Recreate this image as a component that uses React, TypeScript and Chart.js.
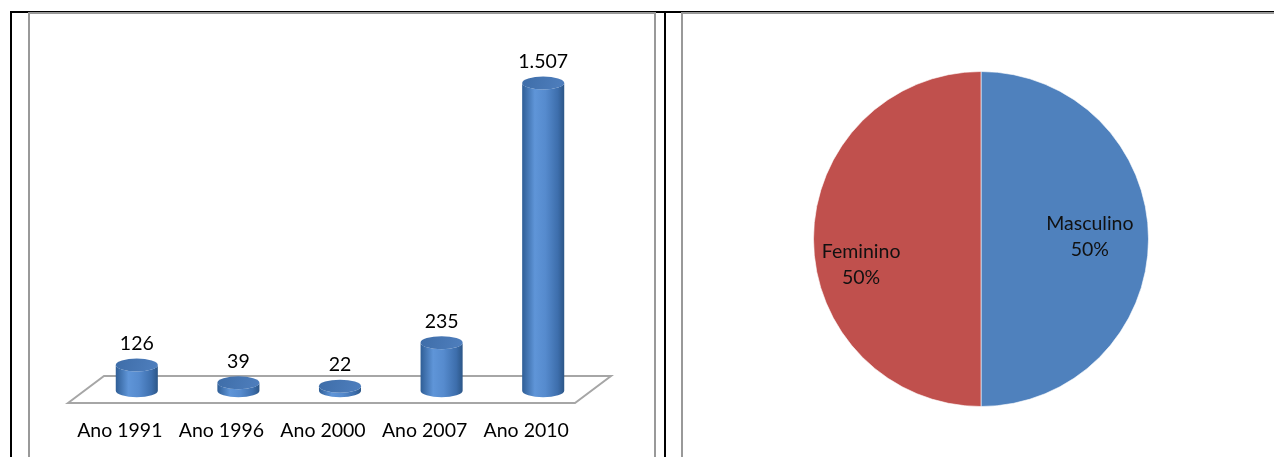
import React, { useEffect, useRef } from "react";
import { Chart, registerables } from "chart.js";

Chart.register(...registerables);

// ---- data ----
const barCategories = ["Ano 1991", "Ano 1996", "Ano 2000", "Ano 2007", "Ano 2010"];
const barValues = [126, 39, 22, 235, 1507];

const pieLabels = ["Masculino", "Feminino"];
const pieValues = [50, 50];
const pieColors = ["#4f81bd", "#c0504d"];

// label placement tweaks (style, not data)
const pieLabelOffsets = [
  [0, -2],
  [-11, 26],
];

const FONT = "Lato, 'Open Sans', sans-serif";
const FSIZE = 19.5;

const fmt = (n: number) => String(n).replace(/\B(?=(\d{3})+(?!\d))/g, ".");

const cylinderPlugin = {
  id: "cylinders",
  beforeDatasetsDraw(chart: any) {
    const { ctx, chartArea: a, scales } = chart;
    const base = scales.y.getPixelForValue(0);
    ctx.save();
    ctx.strokeStyle = "#a6a6a6";
    ctx.lineWidth = 2;
    ctx.beginPath();
    ctx.moveTo(a.left - 18, base + 12.3);
    ctx.lineTo(a.left + 18, base - 14.7);
    ctx.lineTo(a.right + 17, base - 14.7);
    ctx.lineTo(a.right - 19, base + 12.3);
    ctx.closePath();
    ctx.stroke();
    ctx.restore();
  },
  afterDatasetsDraw(chart: any) {
    const { ctx, scales } = chart;
    const meta = chart.getDatasetMeta(0);
    const vals = chart.data.datasets[0].data as number[];
    meta.data.forEach((bar: any, i: number) => {
      const { x, y, base, width } = bar.getProps(["x", "y", "base", "width"], true);
      const rx = width / 2;
      const ry = 6.5;
      ctx.save();
      // side
      const g = ctx.createLinearGradient(x - rx, 0, x + rx, 0);
      g.addColorStop(0, "#2f5e96");
      g.addColorStop(0.3, "#5f95d8");
      g.addColorStop(0.55, "#568bce");
      g.addColorStop(0.85, "#3d6eac");
      g.addColorStop(1, "#2c5687");
      ctx.fillStyle = g;
      ctx.beginPath();
      ctx.moveTo(x - rx, y);
      ctx.lineTo(x - rx, base);
      ctx.ellipse(x, base, rx, ry, 0, Math.PI, 0, true);
      ctx.lineTo(x + rx, y);
      ctx.ellipse(x, y, rx, ry, 0, 0, Math.PI, false);
      ctx.closePath();
      ctx.fill();
      // top
      const gt = ctx.createLinearGradient(x - rx, y - ry, x + rx, y + ry);
      gt.addColorStop(0, "#3e6da8");
      gt.addColorStop(1, "#4f7fbe");
      ctx.fillStyle = gt;
      ctx.beginPath();
      ctx.ellipse(x, y, rx, ry, 0, 0, Math.PI * 2);
      ctx.fill();
      // value label
      ctx.fillStyle = "#000";
      ctx.font = `${FSIZE}px ${FONT}`;
      ctx.textAlign = "center";
      ctx.textBaseline = "middle";
      ctx.fillText(fmt(vals[i]), x, y - 21);
      ctx.restore();
    });
    // category labels (aligned with the front edge of the floor)
    const xs = scales.x;
    ctx.save();
    ctx.fillStyle = "#000";
    ctx.font = `${FSIZE}px ${FONT}`;
    ctx.textAlign = "center";
    ctx.textBaseline = "middle";
    (chart.data.labels as string[]).forEach((lab, i) => {
      ctx.fillText(lab, xs.getPixelForValue(i) - 17, scales.y.getPixelForValue(0) + 40.3);
    });
    ctx.restore();
  },
};

const pieLabelPlugin = {
  id: "pieLabels",
  afterDatasetsDraw(chart: any) {
    const { ctx } = chart;
    const meta = chart.getDatasetMeta(0);
    const vals = chart.data.datasets[0].data as number[];
    const total = vals.reduce((s, v) => s + v, 0);
    meta.data.forEach((arc: any, i: number) => {
      const { x, y, startAngle, endAngle, outerRadius } = arc.getProps(
        ["x", "y", "startAngle", "endAngle", "outerRadius"],
        true
      );
      const mid = (startAngle + endAngle) / 2;
      const r = outerRadius * 0.65;
      const cx = x + Math.cos(mid) * r + pieLabelOffsets[i][0];
      const cy = y + Math.sin(mid) * r + pieLabelOffsets[i][1];
      ctx.save();
      ctx.fillStyle = "#111";
      ctx.font = `${FSIZE}px ${FONT}`;
      ctx.textAlign = "center";
      ctx.textBaseline = "middle";
      ctx.fillText(String(chart.data.labels[i]), cx, cy - 13);
      ctx.fillText(Math.round((vals[i] / total) * 100) + "%", cx, cy + 13);
      ctx.restore();
    });
  },
};

function BarChart() {
  const ref = useRef<HTMLCanvasElement>(null);
  useEffect(() => {
    const chart = new Chart(ref.current!, {
      type: "bar",
      data: {
        labels: barCategories,
        datasets: [
          {
            data: barValues,
            backgroundColor: "rgba(0,0,0,0)",
            borderWidth: 0,
            categoryPercentage: 1,
            barPercentage: 0.414,
          },
        ],
      },
      options: {
        animation: false,
        responsive: false,
        layout: { padding: { left: 56, right: 59, top: 50, bottom: 66.3 } },
        plugins: { legend: { display: false }, tooltip: { enabled: false } },
        scales: {
          x: { display: false, offset: true },
          y: { display: false, min: 0, max: 1600 },
        },
      },
      plugins: [cylinderPlugin],
    });
    return () => chart.destroy();
  }, []);
  return <canvas ref={ref} width={623} height={443} style={{ position: "absolute", left: 30, top: 14 }} />;
}

function PieChart() {
  const ref = useRef<HTMLCanvasElement>(null);
  useEffect(() => {
    const chart = new Chart(ref.current!, {
      type: "pie",
      data: {
        labels: pieLabels,
        datasets: [
          {
            data: pieValues,
            backgroundColor: pieColors,
            borderColor: "rgba(255,255,255,0.6)",
            borderWidth: 1,
          },
        ],
      },
      options: {
        animation: false,
        responsive: false,
        layout: { padding: { left: 0, right: 0, top: 57, bottom: 57 } },
        plugins: { legend: { display: false }, tooltip: { enabled: false } },
      },
      plugins: [pieLabelPlugin],
    });
    return () => chart.destroy();
  }, []);
  return <canvas ref={ref} width={596} height={450} style={{ position: "absolute", left: 683, top: 14 }} />;
}

export default function App() {
  return (
    <div style={{ position: "fixed", inset: 0, overflow: "hidden", background: "#fff" }}>
      {/* table lines */}
      <div style={{ position: "absolute", left: 10, top: 11, width: 1300, height: 2, background: "#000" }} />
      <div style={{ position: "absolute", left: 10, top: 11, width: 2, height: 460, background: "#000" }} />
      <div style={{ position: "absolute", left: 664, top: 11, width: 2, height: 460, background: "#000" }} />
      {/* chart frames */}
      <div
        style={{
          position: "absolute",
          left: 28,
          top: 12,
          width: 628,
          height: 470,
          boxSizing: "border-box",
          border: "2px solid #999",
        }}
      />
      <div
        style={{
          position: "absolute",
          left: 681,
          top: 12,
          width: 700,
          height: 470,
          boxSizing: "border-box",
          border: "2px solid #999",
        }}
      />
      <BarChart />
      <PieChart />
    </div>
  );
}
